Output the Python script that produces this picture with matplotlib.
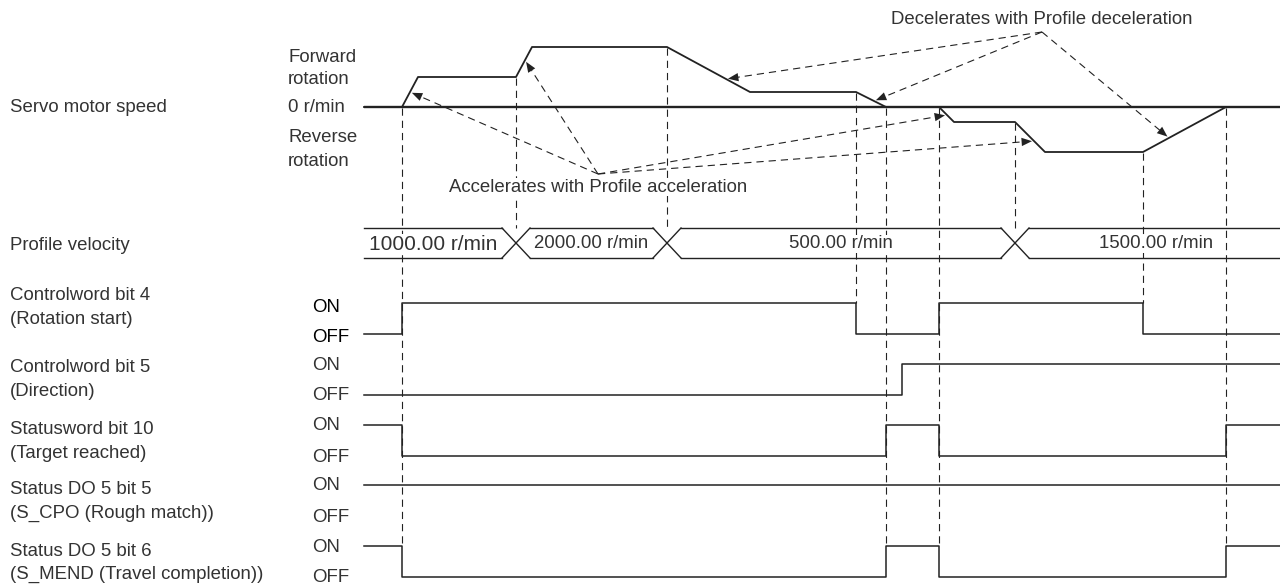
import numpy as np
import matplotlib.pyplot as plt
import matplotlib.patches as patches

plt.rcParams['font.family'] = ['Liberation Sans', 'DejaVu Sans']

# ---- data (time axis = horizontal position along the diagram) ----
speed_t = [364, 402, 418, 516, 532, 667, 750, 856, 886, 939, 954, 1015, 1045, 1143, 1226, 1280]
speed_v = [0, 0, 1000, 1000, 2000, 2000, 500, 500, 0, 0, -500, -500, -1500, -1500, 0, 0]

vel_changes = [516, 667, 1015]
vel_labels = ['1000.00 r/min', '2000.00 r/min', '500.00 r/min', '1500.00 r/min']
vel_label_t = [433, 591, 841, 1156]

sig_names = [('Controlword bit 4', '(Rotation start)'),
             ('Controlword bit 5', '(Direction)'),
             ('Statusword bit 10', '(Target reached)'),
             ('Status DO 5 bit 5', '(S_CPO (Rough match))'),
             ('Status DO 5 bit 6', '(S_MEND (Travel completion))')]
sig_start = [0, 0, 1, 1, 1]
sig_edges = [[402, 856, 939, 1143],
             [902],
             [402, 886, 939, 1226],
             [],
             [402, 886, 939, 1226]]

guide_t = [402, 516, 667, 856, 886, 939, 1015, 1143, 1226]
guide_end = ['last', 'bus', 'bus', 'cw4', 'last', 'last', 'bus', 'cw4', 'last']

accel_tip_t = [410, 525, 947, 1034]
decel_tip_t = [726, 874, 1169]

# ---- layout ----
T0, T1 = 364, 1280
SPEED_Y0 = 107
PX_PER_RPM = 0.03
BUS_TOP, BUS_BOT, BUS_HW = 228, 258, 14
ROW_ON = [303, 364, 425, 485, 546]
ROW_H = 31
ROW_LABEL_Y = [296, 368, 430, 490, 551]
FS = 13.4
TXT = '#333333'
LINE = '#222222'
DASH = (0, (6.5, 4.5))
WHITE_BOX = dict(facecolor='white', edgecolor='none', pad=0.5)


def sy(v):
    return SPEED_Y0 - np.asarray(v) * PX_PER_RPM


fig = plt.figure(figsize=(12.8, 5.88), dpi=100)
ax = fig.add_axes([0, 0, 1, 1])
ax.set_xlim(0, 1280)
ax.set_ylim(588, 0)
ax.axis('off')

# servo motor speed
ax.text(10, SPEED_Y0, 'Servo motor speed', fontsize=FS, color=TXT, va='center')
ax.text(288, 58, 'Forward', fontsize=FS, color=TXT, va='center')
ax.text(288, 80, 'rotation', fontsize=FS, color=TXT, va='center')
ax.text(288, 108, '0 r/min', fontsize=FS, color=TXT, va='center')
ax.text(288, 138, 'Reverse', fontsize=FS, color=TXT, va='center')
ax.text(288, 161, 'rotation', fontsize=FS, color=TXT, va='center')
ax.plot([T0, T1], [SPEED_Y0, SPEED_Y0], color=LINE, lw=1.7, solid_capstyle='butt')
ax.plot(speed_t, sy(speed_v), color=LINE, lw=1.3)

# vertical guides (drawn first so labels can sit on top)
ends = {'bus': BUS_TOP, 'cw4': ROW_ON[0], 'last': ROW_ON[-1]}
for t, e in zip(guide_t, guide_end):
    top = float(np.interp(t, speed_t, sy(speed_v)))
    ax.plot([t, t], [top + 1, ends[e]], color=LINE, lw=0.8, ls=DASH, zorder=1)

# profile velocity bus
ax.text(10, 245, 'Profile velocity', fontsize=FS, color=TXT, va='center')
bounds = [T0] + vel_changes + [T1]
for i in range(len(bounds) - 1):
    a = bounds[i] + (BUS_HW if i > 0 else 0)
    b = bounds[i + 1] - (BUS_HW if i < len(bounds) - 2 else 0)
    ax.plot([a, b], [BUS_TOP, BUS_TOP], color=LINE, lw=1.0)
    ax.plot([a, b], [BUS_BOT, BUS_BOT], color=LINE, lw=1.0)
for c in vel_changes:
    ax.plot([c - BUS_HW, c + BUS_HW], [BUS_TOP, BUS_BOT], color=LINE, lw=1.0)
    ax.plot([c - BUS_HW, c + BUS_HW], [BUS_BOT, BUS_TOP], color=LINE, lw=1.0)
for i, (lab, t) in enumerate(zip(vel_labels, vel_label_t)):
    ax.text(t, (BUS_TOP + BUS_BOT) / 2 + 1, lab, fontsize=15 if i == 0 else FS,
            color=TXT, ha='center', va='center', bbox=WHITE_BOX, zorder=3)

# digital signals
for i, (names, st, edges) in enumerate(zip(sig_names, sig_start, sig_edges)):
    on_y, off_y = ROW_ON[i], ROW_ON[i] + ROW_H
    ax.text(10, ROW_LABEL_Y[i], names[0], fontsize=FS, color=TXT, va='center')
    ax.text(10, ROW_LABEL_Y[i] + 23, names[1], fontsize=FS, color=TXT, va='center')
    dy = 4 if i == 0 else 1
    col = 'black' if i == 0 else TXT
    ax.text(312, on_y + dy, 'ON', fontsize=FS, color=col, va='center')
    ax.text(312, off_y + dy, 'OFF', fontsize=FS, color=col, va='center')
    xs = [T0]
    state = st
    ys = [on_y if state else off_y]
    for e in edges:
        xs += [e, e]
        ys += [on_y if state else off_y]
        state = 1 - state
        ys += [on_y if state else off_y]
    xs.append(T1)
    ys.append(on_y if state else off_y)
    ax.plot(xs, ys, color=LINE, lw=1.1, zorder=2)


# annotation arrows
def dashed_arrow(origin, t):
    tip = np.array([t, float(np.interp(t, speed_t, sy(speed_v)))])
    o = np.array(origin, dtype=float)
    u = (tip - o) / np.linalg.norm(tip - o)
    tip = tip - u * 2
    base = tip - u * 10
    ax.plot([o[0], base[0]], [o[1], base[1]], color=LINE, lw=0.8, ls=DASH)
    head = patches.FancyArrowPatch(base, tip, arrowstyle='-|>,head_length=0.75,head_width=0.3',
                                   mutation_scale=10, color=LINE, lw=0,
                                   shrinkA=0, shrinkB=0)
    ax.add_patch(head)


acc_xy = (598, 187)
ax.text(acc_xy[0], acc_xy[1], 'Accelerates with Profile acceleration', fontsize=FS,
        color=TXT, ha='center', va='center', bbox=WHITE_BOX, zorder=3)
for t in accel_tip_t:
    dashed_arrow((acc_xy[0], acc_xy[1] - 13), t)

dec_xy = (1042, 20)
ax.text(dec_xy[0], dec_xy[1], 'Decelerates with Profile deceleration', fontsize=FS,
        color=TXT, ha='center', va='center')
for t in decel_tip_t:
    dashed_arrow((dec_xy[0], dec_xy[1] + 12), t)

fig.savefig('out.png', dpi=100)
